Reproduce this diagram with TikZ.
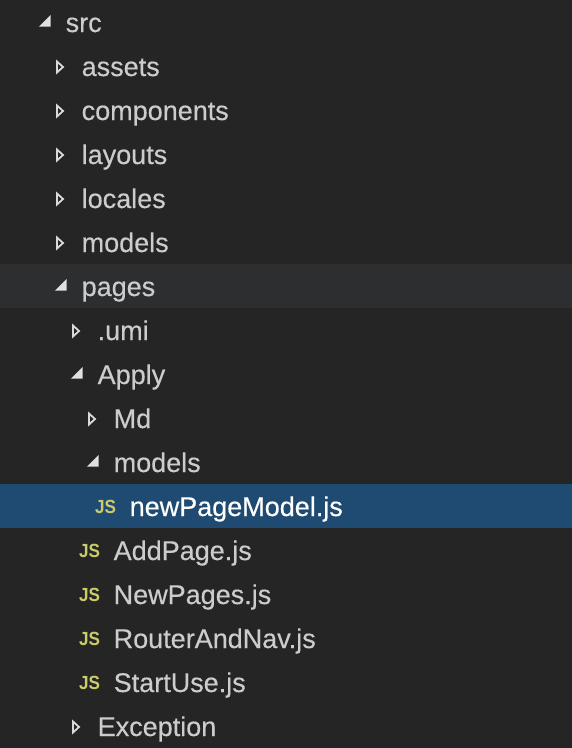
\documentclass[tikz,border=0pt]{standalone}
\usepackage{fontspec}
\setmainfont{Liberation Sans}
\newfontfamily\rowfont[FakeBold=0.35]{Liberation Sans}
\usetikzlibrary{positioning}
\definecolor{panel}{HTML}{252526}
\definecolor{hoverrow}{HTML}{2D2E2F}
\definecolor{selrow}{HTML}{1F4A72}
\definecolor{labelc}{HTML}{CCCCCC}
\definecolor{jsc}{HTML}{CBCB6A}
\tikzset{
  rowlabel/.style={anchor=base west, inner sep=0pt, text=labelc, font=\rowfont\fontsize{27}{27}\selectfont},
  jsicon/.style={anchor=base, inner sep=0pt, text=jsc, xscale=0.9, font=\fontsize{19}{19}\selectfont\bfseries},
  closedtri/.style={draw=white!85!black, line width=1.8pt, fill=panel, line join=miter},
  opentri/.style={fill=white!88!black}
}
\begin{document}
\begin{tikzpicture}[x=1pt, y=-1pt]
  % panel and row bands
  \fill[panel] (0,0) rectangle (572,748);
  \fill[hoverrow] (0,264) rectangle (572,308);
  \fill[selrow] (0,484) rectangle (572,527.5);
  \useasboundingbox (0,0) rectangle (572,748);
  % folders that are collapsed
  \foreach \nm/\xx/\yy/\txt in {assets/82/67/assets, components/82/111/components,
      layouts/82/155/layouts, locales/82/199/locales, modelsa/82/243/models,
      umi/98/331/.umi, md/114/419/Md, exception/98/727/Exception} {
    \node[rowlabel] (\nm) at (\xx-0.5,\yy+9) {\txt};
    \draw[closedtri] (\xx-25,\yy-5.5) -- (\xx-19,\yy) -- (\xx-25,\yy+5.5) -- cycle;
  }
  % folders that are open
  \foreach \nm/\xx/\yy/\txt in {src/66/23/src, pages/82/287/pages,
      apply/98/375/Apply, modelsb/114/463/models} {
    \node[rowlabel] (\nm) at (\xx-0.5,\yy+9) {\txt};
    \fill[opentri] (\xx-15.5,\yy-8) -- (\xx-15.5,\yy+3.5) -- (\xx-27,\yy+3.5) -- cycle;
  }
  % js files
  \foreach \nm/\xx/\yy/\txt in {addpage/114/551/AddPage.js, newpages/114/595/NewPages.js,
      router/114/639/RouterAndNav.js, startuse/114/683/StartUse.js} {
    \node[rowlabel] (\nm) at (\xx-0.5,\yy+9) {\txt};
    \node[jsicon] (\nm js) at (\xx-24.5,\yy+6.5) {JS};
  }
  % selected file
  \node[rowlabel, text=white] (newpage) at (129.5,516) {newPageModel.js};
  \node[jsicon] (newpagejs) at (105.5,513.5) {JS};
\end{tikzpicture}
\end{document}
